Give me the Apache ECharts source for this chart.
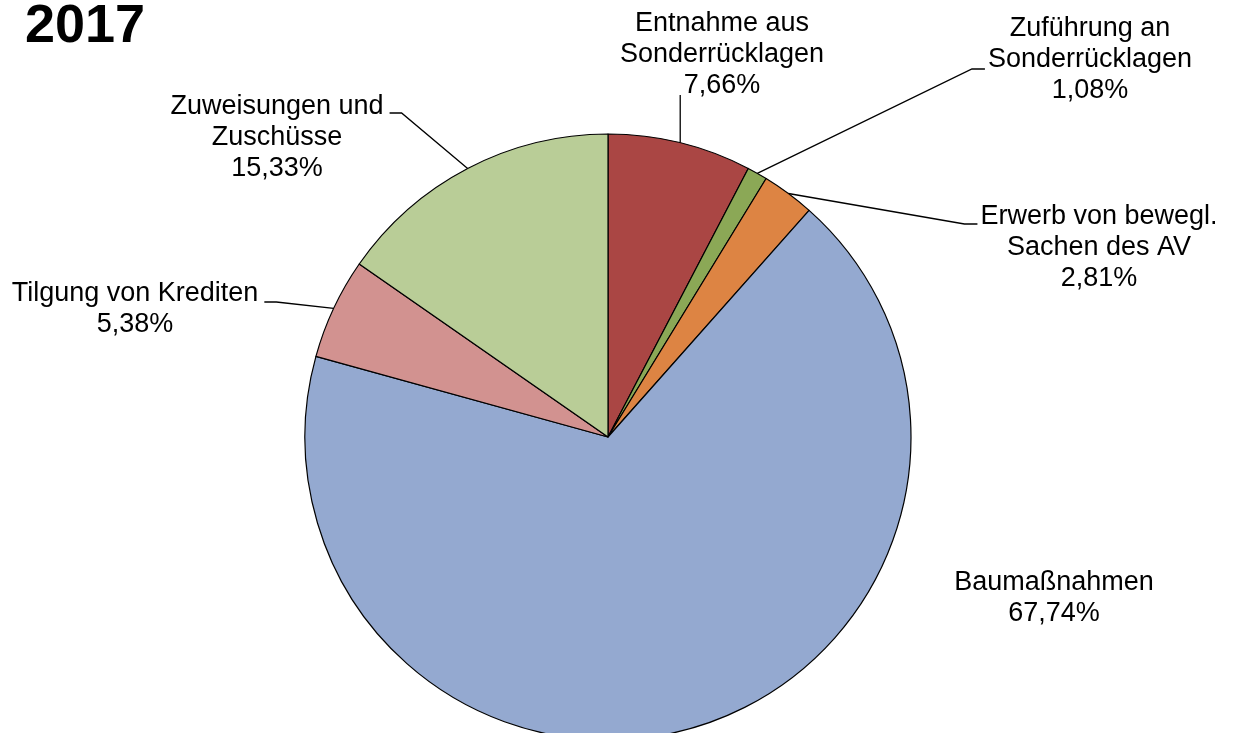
<!DOCTYPE html>
<html>
<head>
<meta charset="utf-8">
<script src="https://cdn.jsdelivr.net/npm/echarts@6/dist/echarts.min.js"></script>
<style>
html,body{margin:0;padding:0;background:#fff;}
#chart{width:1233px;height:733px;}
</style>
</head>
<body>
<div id="chart"></div>
<script>
const title = '2017';
const categories = [
  'Entnahme aus\nSonderrücklagen',
  'Zuführung an\nSonderrücklagen',
  'Erwerb von bewegl.\nSachen des AV',
  'Baumaßnahmen',
  'Tilgung von Krediten',
  'Zuweisungen und\nZuschüsse'
];
const values = [7.66, 1.08, 2.81, 67.74, 5.38, 15.33];
const colors = ['#AA4644', '#8BA856', '#DD8443', '#94A9D0', '#D29290', '#B9CD97'];

// label placement (centre x, top y of text block) and leader-line attachment
const labelPlace = [
  {cx: 722, top: 8,   side: 'bottom'},
  {cx: 1090, top: 13, side: 'left', dy: 56},
  {cx: 1099, top: 201, side: 'left', dy: 23},
  {cx: 1054, top: 567, side: 'none'},
  {cx: 135, top: 278, side: 'right', dy: 24},
  {cx: 277, top: 91,  side: 'right', dy: 22}
];

const fmt = v => v.toFixed(2).replace('.', ',') + '%';

const chart = echarts.init(document.getElementById('chart'));
chart.setOption({
  animation: false,
  backgroundColor: '#fff',
  title: {
    text: title,
    left: 25,
    top: 0,
    padding: 0,
    textStyle: {fontFamily: 'Liberation Sans', fontSize: 54, fontWeight: 'bold', color: '#000'}
  },
  series: [{
    type: 'pie',
    center: [608, 437],
    radius: 303,
    startAngle: 90,
    clockwise: true,
    avoidLabelOverlap: false,
    data: categories.map((c, i) => ({
      name: c,
      value: values[i],
      itemStyle: {color: colors[i]},
      labelLine: {show: labelPlace[i].side !== 'none'}
    })),
    itemStyle: {borderColor: '#000', borderWidth: 1.2},
    emphasis: {disabled: true},
    label: {
      show: true,
      position: 'outside',
      formatter: p => p.name + '\n' + fmt(p.value),
      fontFamily: 'Liberation Sans',
      fontSize: 27,
      lineHeight: 31,
      color: '#000',
      align: 'center'
    },
    labelLine: {
      show: true,
      length: 20,
      length2: 10,
      lineStyle: {color: '#000', width: 1.3}
    },
    labelLayout: function (params) {
      const lp = labelPlace[params.dataIndex];
      const w = params.labelRect.width;
      const h = params.labelRect.height;
      const res = {x: lp.cx, y: lp.top, align: 'center', verticalAlign: 'top'};
      const pts = params.labelLinePoints;
      if (pts && pts.length) {
        const p0 = pts[0];
        const left = lp.cx - w / 2, right = lp.cx + w / 2;
        if (lp.side === 'bottom') {
          res.labelLinePoints = [p0, [p0[0], lp.top + h - 6], [p0[0], lp.top + h - 6]];
        } else if (lp.side === 'left') {
          const y = lp.top + lp.dy;
          res.labelLinePoints = [p0, [left - 16, y], [left - 3, y]];
        } else if (lp.side === 'right') {
          const y = lp.top + lp.dy;
          res.labelLinePoints = [p0, [right + 18, y], [right + 6, y]];
        }
      }
      return res;
    }
  }]
});
</script>
</body>
</html>
